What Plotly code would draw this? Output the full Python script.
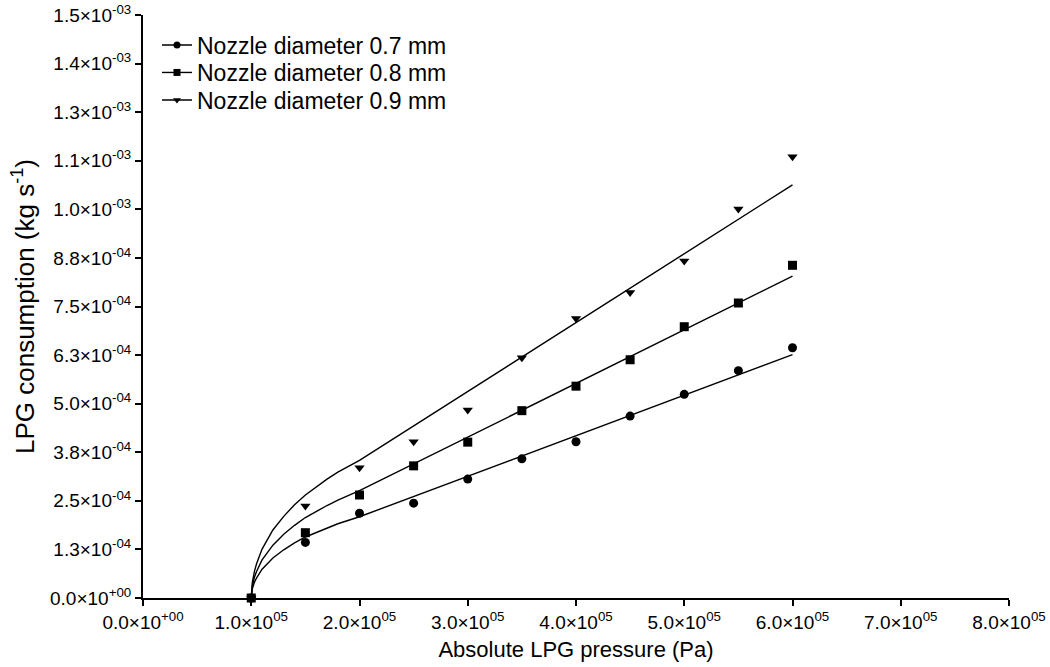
import plotly.graph_objects as go

# ---- data ----
pressure = [1.0e5, 1.5e5, 2.0e5, 2.5e5, 3.0e5, 3.5e5, 4.0e5, 4.5e5, 5.0e5, 5.5e5, 6.0e5]
d07 = [0.0, 1.43e-4, 2.18e-4, 2.44e-4, 3.06e-4, 3.58e-4, 4.02e-4, 4.68e-4, 5.24e-4, 5.85e-4, 6.44e-4]
d08 = [0.0, 1.68e-4, 2.65e-4, 3.40e-4, 4.01e-4, 4.82e-4, 5.45e-4, 6.13e-4, 6.98e-4, 7.59e-4, 8.56e-4]
d09 = [0.0, 2.37e-4, 3.35e-4, 4.02e-4, 4.84e-4, 6.18e-4, 7.19e-4, 7.86e-4, 8.67e-4, 1.001e-3, 1.135e-3]

# fitted curves
fit_p = [1.0e5, 1.01e5, 1.03e5, 1.05e5, 1.1e5, 1.2e5, 1.3e5, 1.4e5, 1.5e5,
         1.6e5, 1.7e5, 1.8e5, 1.9e5, 2.0e5, 6.0e5]
fit07 = [0.0, 0.24e-4, 0.41e-4, 0.52e-4, 0.74e-4, 1.03e-4, 1.24e-4, 1.42e-4, 1.57e-4,
         1.69e-4, 1.80e-4, 1.91e-4, 2.00e-4, 2.09e-4, 6.26e-4]
fit08 = [0.0, 0.31e-4, 0.54e-4, 0.69e-4, 0.98e-4, 1.36e-4, 1.64e-4, 1.87e-4, 2.07e-4,
         2.23e-4, 2.38e-4, 2.52e-4, 2.64e-4, 2.76e-4, 8.28e-4]
fit09 = [0.0, 0.40e-4, 0.69e-4, 0.89e-4, 1.26e-4, 1.75e-4, 2.10e-4, 2.40e-4, 2.65e-4,
         2.86e-4, 3.06e-4, 3.24e-4, 3.39e-4, 3.54e-4, 10.63e-4]

series_names = ["Nozzle diameter 0.7 mm", "Nozzle diameter 0.8 mm", "Nozzle diameter 0.9 mm"]
symbols = ["circle", "square", "triangle-down"]

x_tickvals = [0, 1e5, 2e5, 3e5, 4e5, 5e5, 6e5, 7e5, 8e5]
x_ticktext = ["0.0×10<sup>+00</sup>", "1.0×10<sup>05</sup>", "2.0×10<sup>05</sup>",
              "3.0×10<sup>05</sup>", "4.0×10<sup>05</sup>", "5.0×10<sup>05</sup>",
              "6.0×10<sup>05</sup>", "7.0×10<sup>05</sup>", "8.0×10<sup>05</sup>"]
y_tickvals = [0, 1.25e-4, 2.5e-4, 3.75e-4, 5.0e-4, 6.25e-4, 7.5e-4, 8.75e-4,
              1.0e-3, 1.125e-3, 1.25e-3, 1.375e-3, 1.5e-3]
y_ticktext = ["0.0×10<sup>+00</sup>", "1.3×10<sup>-04</sup>", "2.5×10<sup>-04</sup>",
              "3.8×10<sup>-04</sup>", "5.0×10<sup>-04</sup>", "6.3×10<sup>-04</sup>",
              "7.5×10<sup>-04</sup>", "8.8×10<sup>-04</sup>", "1.0×10<sup>-03</sup>",
              "1.1×10<sup>-03</sup>", "1.3×10<sup>-03</sup>", "1.4×10<sup>-03</sup>",
              "1.5×10<sup>-03</sup>"]

data_sets = [d07, d08, d09]
fit_sets = [fit07, fit08, fit09]

W, H = 1050, 667
ML, MR, MT, MB = 143, 41, 15, 69

fig = go.Figure()
for name, sym, ys, fy in zip(series_names, symbols, data_sets, fit_sets):
    fig.add_trace(go.Scatter(x=fit_p, y=fy, mode="lines",
                             line=dict(color="black", width=1.4),
                             showlegend=False, hoverinfo="skip", cliponaxis=False))
    fig.add_trace(go.Scatter(x=pressure, y=ys, mode="markers",
                             marker=dict(symbol=sym, size=9, color="black"),
                             showlegend=False, cliponaxis=False))

legend_ids = ["legend", "legend2", "legend3"]
legend_rows_px = [45, 72.5, 100]   # row centres (pixels from top)
for name, sym, lid in zip(series_names, symbols, legend_ids):
    fig.add_trace(go.Scatter(x=[None], y=[None], mode="lines+markers", name=name,
                             legend=lid,
                             line=dict(color="black", width=1.4),
                             marker=dict(symbol=sym, size=7, color="black")))

font_family = "Liberation Sans, Arial, sans-serif"
plot_h = H - MT - MB
plot_w = W - ML - MR
leg_common = dict(xanchor="left", yanchor="middle",
                  font=dict(size=23, color="black"), bgcolor="rgba(0,0,0,0)",
                  itemwidth=30)
layout_legends = {}
for lid, row in zip(legend_ids, legend_rows_px):
    layout_legends[lid] = dict(leg_common,
                               x=(157 - ML) / plot_w,
                               y=(H - MB - row) / plot_h)

fig.update_layout(
    width=W, height=H,
    margin=dict(l=ML, r=MR, t=MT, b=MB, autoexpand=False),
    paper_bgcolor="white", plot_bgcolor="white",
    font=dict(family=font_family, color="black", size=19),
    **layout_legends,
    xaxis=dict(range=[0, 8e5], tickvals=x_tickvals, ticktext=x_ticktext,
               showgrid=False, zeroline=False, showline=True, linecolor="black",
               linewidth=2, ticks="outside", ticklen=6, tickwidth=1.5, tickcolor="black",
               tickfont=dict(size=19), automargin=False,
               title=dict(text="Absolute LPG pressure (Pa)", font=dict(size=22), standoff=10)),
    yaxis=dict(range=[0, 1.5e-3], tickvals=y_tickvals, ticktext=y_ticktext,
               showgrid=False, zeroline=False, showline=True, linecolor="black",
               linewidth=2, ticks="outside", ticklen=6, tickwidth=1.5, tickcolor="black",
               tickfont=dict(size=19), automargin=False,
               title=dict(text="LPG consumption (kg s<sup>-1</sup>)", font=dict(size=26), standoff=8)),
)

fig.write_html("out.html")
